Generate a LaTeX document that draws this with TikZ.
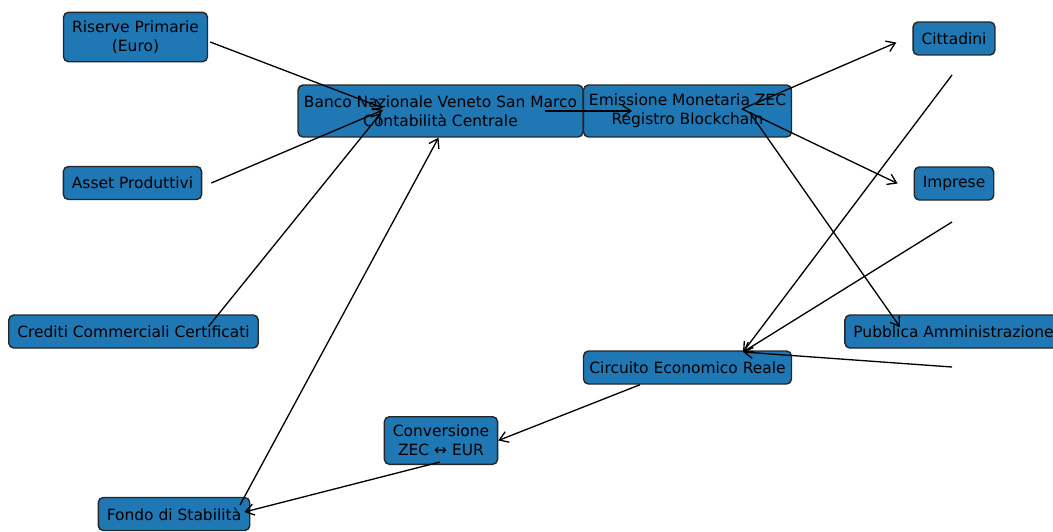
\documentclass[tikz,border=0pt]{standalone}
\usepackage{fontspec}
\setmainfont{DejaVu Sans}
\usetikzlibrary{arrows.meta,positioning}
\definecolor{boxblue}{HTML}{1F77B4}
\tikzset{
  box/.style={shape=rectangle,draw=black!85,line width=0.8pt,fill=boxblue,
    rounded corners=2.8pt,align=center,inner xsep=0.17cm,inner ysep=0.17cm,
    minimum height=0.66cm,font=\fontsize{8.8}{10.6}\selectfont},
  widebox/.style={box,inner xsep=0.08cm,minimum width=4.16cm},
  link/.style={draw,line width=0.75pt,-{Straight Barb[length=4.8pt,width=6.4pt]}}
}
\begin{document}
\begin{tikzpicture}[x=0.02cm,y=-0.02cm]
  \useasboundingbox (0,0) rectangle (1053,531);
  \path (135.5,37) node [box] (riserve) {Riserve Primarie\\(Euro)}
  (132.5,183) node [box] (asset) {Asset Produttivi}
  (133.5,331.5) node [box] (crediti) {Crediti Commerciali Certificati}
  (174,514) node [box] (fondo) {Fondo di Stabilità}
  (441,440.5) node [box] (conv) {Conversione\\ZEC ↔ EUR}
  (687.5,367.5) node [widebox] (circ) {Circuito Economico Reale}
  (440.5,111) node [box,inner xsep=0.05cm,minimum width=5.7cm,minimum height=1.04cm] (banco) {Banco Nazionale Veneto San Marco\\Contabilità Centrale}
  (687.5,111) node [widebox,minimum height=1.04cm] (emis) {Emissione Monetaria ZEC\\Registro Blockchain}
  (954,38.5) node [box] (cit) {Cittadini}
  (954,183.5) node [box] (imp) {Imprese}
  (953.5,331.5) node [box] (pa) {Pubblica Amministrazione};

  \draw[link] ([shift={(2,5)}]riserve.east) -- ([shift={(-57.5,-3)}]banco.center);
  \draw[link] ([shift={(9,0)}]asset.east) -- ([shift={(-57.5,-1)}]banco.center);
  \draw[link] ([shift={(75,-5)}]crediti.center) -- ([shift={(-59.5,2)}]banco.center);
  \draw[link] ([shift={(66,-9)}]fondo.center) -- ([shift={(-2,0)}]banco.south);
  \draw[link] ([shift={(104.5,0)}]banco.center) -- ([shift={(-55.5,0)}]emis.center);
  \draw[link] ([shift={(54.5,-2)}]emis.center) -- ([shift={(-16,4)}]cit.west);
  \draw[link] ([shift={(54.5,-2)}]emis.center) -- ([shift={(-16,0)}]imp.west);
  \draw[link] ([shift={(62.5,2)}]emis.center) -- ([shift={(-53.5,-4.5)}]pa.center);
  \draw[link] ([shift={(-2,36.5)}]cit.center) -- ([shift={(55.5,-15.5)}]circ.center);
  \draw[link] ([shift={(-2,38.5)}]imp.center) -- ([shift={(55.5,-15.5)}]circ.center);
  \draw[link] ([shift={(-1.5,35.5)}]pa.center) -- ([shift={(55.5,-15.5)}]circ.center);
  \draw[link] ([shift={(-47.5,0)}]circ.south) -- (conv.east);
  \draw[link] ([shift={(-1,-3)}]conv.south) -- ([shift={(-6,-2)}]fondo.east);
\end{tikzpicture}
\end{document}
